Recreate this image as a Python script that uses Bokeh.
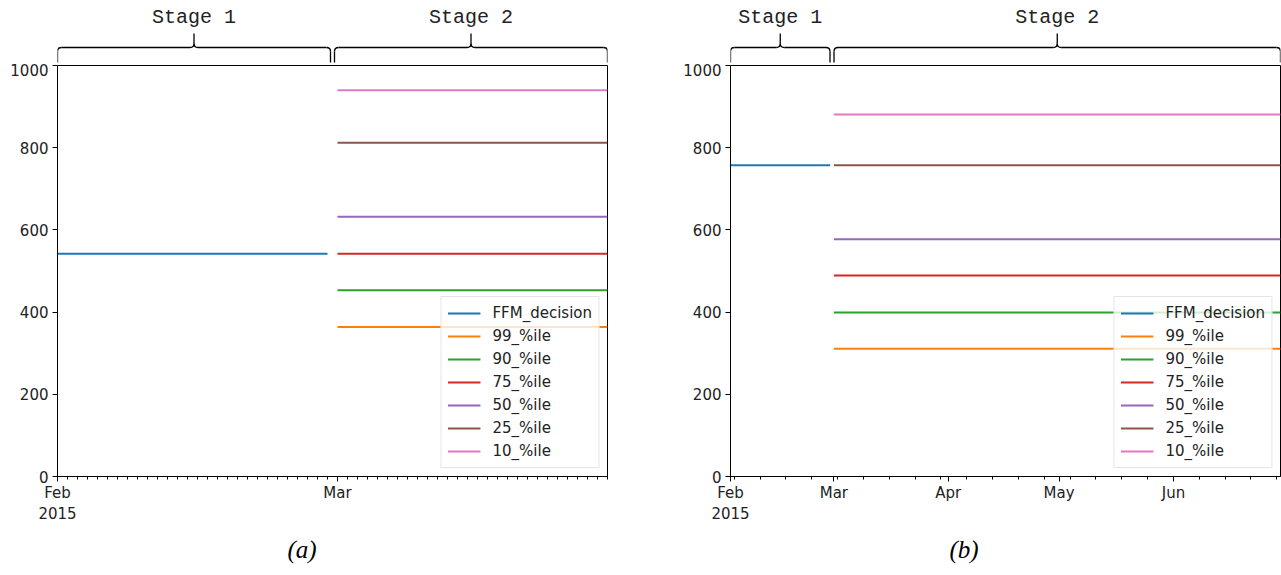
import pandas as pd
from bokeh.plotting import figure
from bokeh.models import Range1d, FixedTicker, Legend, LegendItem, Title
from bokeh.layouts import row, column
from bokeh.embed import file_html
from bokeh.resources import INLINE
from bokeh.core.properties import value

# ---------------- data ----------------
SERIES = ["FFM_decision", "99_%ile", "90_%ile", "75_%ile", "50_%ile", "25_%ile", "10_%ile"]
COLORS = ["#1f77b4", "#ff7f0e", "#2ca02c", "#d62728", "#9467bd", "#8c564b", "#e377c2"]

# panel (a)
a_stage1 = ["2015-02-01", "2015-02-28"]
a_stage2 = ["2015-03-01", "2015-03-28"]
a_values = [542, 364, 453, 542, 632, 812, 940]
a_ticks = ["2015-02-01", "2015-03-01"]
a_tick_labels = ["Feb\n2015", "Mar"]

# panel (b)
b_stage1 = ["2015-02-01", "2015-02-28"]
b_stage2 = ["2015-03-01", "2015-06-30"]
b_values = [757, 311, 399, 489, 577, 757, 881]
b_ticks = ["2015-02-01", "2015-03-01", "2015-04-01", "2015-05-01", "2015-06-01"]
b_tick_labels = ["Feb\n2015", "Mar", "Apr", "May", "Jun"]

y_ticks = [0, 200, 400, 600, 800, 1000]
stage_labels = ["Stage 1", "Stage 2"]
captions = ["(a)", "(b)"]

FONT = "DejaVu Sans"
TXT = "#222222"
FRAME_W, FRAME_H = 550, 411


def ms(d):
    return pd.Timestamp(d).value / 1e6


def make_panel(stage1, stage2, values, ticks, tick_labels, minor, caption,
               border_left, border_right, cap_offset):
    x0, x1 = ms(stage1[0]), ms(stage2[1])
    xr = Range1d(x0, x1)

    # ---- brace strip ----
    bh = 63
    b = figure(frame_width=FRAME_W, frame_height=bh, x_range=xr, y_range=Range1d(0, bh),
               x_axis_location=None, y_axis_location=None, output_backend="svg",
               toolbar_location=None, min_border_left=border_left, min_border_right=border_right,
               min_border_top=0, min_border_bottom=0)
    b.grid.visible = False
    b.outline_line_color = None
    px = (x1 - x0) / FRAME_W
    boundary = (ms(stage1[1]) + ms(stage2[0])) / 2
    spans = [(x0, boundary - 2 * px), (boundary + 2 * px, x1)]
    y_tip, y_bar, y_peak, rr = 1, 16, 30, 4
    r = 4 * px
    qx0, qy0, qx1, qy1, qcx, qcy = [], [], [], [], [], []
    sx0, sy0, sx1, sy1 = [], [], [], []
    mids = []
    for xa, xb in spans:
        xm = (xa + xb) / 2
        mids.append(xm)
        qx0 += [xa, xb, xm - r, xm + r]
        qy0 += [y_bar - rr, y_bar - rr, y_bar, y_bar]
        qx1 += [xa + r, xb - r, xm, xm]
        qy1 += [y_bar, y_bar, y_bar + rr, y_bar + rr]
        qcx += [xa, xb, xm, xm]
        qcy += [y_bar, y_bar, y_bar, y_bar]
        sx0 += [xa, xb, xa + r, xm + r, xm]
        sy0 += [y_tip, y_tip, y_bar, y_bar, y_bar + rr]
        sx1 += [xa, xb, xm - r, xb - r, xm]
        sy1 += [y_bar - rr, y_bar - rr, y_bar, y_bar, y_peak]
    b.quadratic(x0=qx0, y0=qy0, x1=qx1, y1=qy1, cx=qcx, cy=qcy, line_color="black", line_width=1.3)
    b.segment(x0=sx0, y0=sy0, x1=sx1, y1=sy1, line_color="black", line_width=1.3)
    b.text(x=mids, y=[46, 46], text=stage_labels, text_font=value("Liberation Mono"),
           text_font_size="20px", text_align="center", text_baseline="middle", text_color=TXT)

    # ---- main plot ----
    p = figure(frame_width=FRAME_W, frame_height=FRAME_H, x_range=xr, y_range=Range1d(0, 1000),
               x_axis_type="datetime", output_backend="svg", toolbar_location=None,
               min_border_left=border_left, min_border_right=border_right, min_border_top=2,
               min_border_bottom=91)
    p.grid.visible = False
    p.outline_line_color = "black"
    p.outline_line_width = 1
    p.outline_line_alpha = 1

    items = []
    for name, color, v in zip(SERIES, COLORS, values):
        st = stage1 if name == "FFM_decision" else stage2
        rd = p.line([ms(st[0]), ms(st[1])], [v, v], line_color=color, line_width=2)
        items.append(LegendItem(label=name, renderers=[rd]))

    leg = Legend(items=items, location="bottom_right", margin=8, padding=6, spacing=3,
                 glyph_width=33, glyph_height=20, label_height=20, label_standoff=12,
                 label_text_font=FONT, label_text_font_size="15px", label_text_color=TXT,
                 border_line_color="#cccccc", border_line_width=1,
                 background_fill_color="white", background_fill_alpha=0.8)
    p.add_layout(leg)

    tick_ms = [ms(t) for t in ticks]
    p.xaxis.ticker = FixedTicker(ticks=tick_ms, minor_ticks=minor)
    p.xaxis.major_label_overrides = {t: lab for t, lab in zip(tick_ms, tick_labels)}
    p.yaxis.ticker = FixedTicker(ticks=y_ticks)
    for ax in (p.xaxis, p.yaxis):
        ax.axis_line_color = "black"
        ax.major_tick_line_color = "black"
        ax.major_tick_out = 5
        ax.major_tick_in = 0
        ax.major_label_text_font = FONT
        ax.major_label_text_font_size = "15px"
        ax.major_label_text_color = TXT
        ax.major_label_standoff = 4
    p.xaxis.major_label_standoff = 2
    p.xaxis.minor_tick_line_color = "black"
    p.xaxis.minor_tick_out = 3
    p.xaxis.minor_tick_in = 0
    p.yaxis.minor_tick_line_color = None

    p.add_layout(Title(text=caption, align="left", offset=cap_offset, standoff=14,
                       text_font="Liberation Serif", text_font_style="italic",
                       text_font_size="25px", text_color="black"), "below")
    return column(b, p, spacing=0)


a_minor = [ms(d) for d in pd.date_range(a_stage1[0], a_stage2[1], freq="D")]
b_minor = [ms(d) for d in pd.date_range(b_stage1[0], b_stage2[1], freq="W-MON")]

left = make_panel(a_stage1, a_stage2, a_values, a_ticks, a_tick_labels, a_minor, captions[0],
                  57, 73, 230)
right = make_panel(b_stage1, b_stage2, b_values, b_ticks, b_tick_labels, b_minor, captions[1],
                   49, 2, 219)

layout = row(left, right, spacing=0)
open("out.html", "w").write(file_html(layout, INLINE))
